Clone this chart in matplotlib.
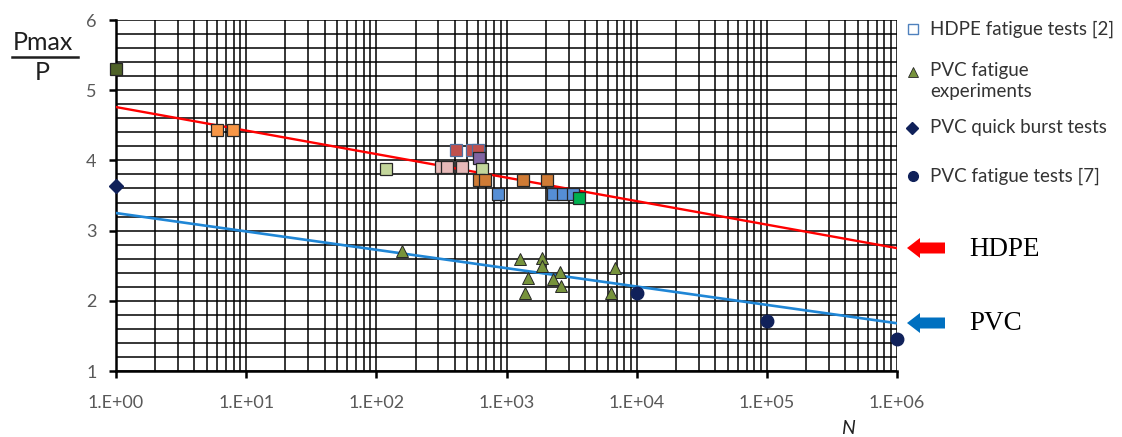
import numpy as np
import matplotlib
matplotlib.use("Agg")
import matplotlib.pyplot as plt
from matplotlib.ticker import LogLocator, MultipleLocator, FuncFormatter, NullFormatter
from matplotlib.patches import FancyArrow

# ---------------- data ----------------
# HDPE fatigue tests [2] (squares, several source groups)
hdpe_N = [1, 6.0, 7.9, 119, 314, 349, 455, 409, 543, 604, 615, 648,
          620, 684, 1339, 2047, 860, 2276, 2717, 3243, 3606]
hdpe_ratio = [5.30, 4.43, 4.43, 3.88, 3.91, 3.91, 3.91, 4.15, 4.15, 4.15, 4.03, 3.88,
              3.72, 3.72, 3.72, 3.72, 3.52, 3.52, 3.52, 3.52, 3.46]
hdpe_group = ["a", "b", "b", "c", "d", "d", "d", "e", "e", "e", "f", "c",
              "g", "g", "g", "g", "h", "h", "h", "h", "i"]

# PVC fatigue experiments (triangles)
pvc_exp_N = [157, 1270, 1870, 1870, 1463, 1387, 2576, 2276, 2624, 6810, 6350]
pvc_exp_ratio = [2.71, 2.60, 2.61, 2.50, 2.32, 2.11, 2.41, 2.31, 2.21, 2.47, 2.11]

# PVC quick burst tests (diamond)
pvc_burst_N = [1]
pvc_burst_ratio = [3.64]

# PVC fatigue tests [7] (circles)
pvc_lit_N = [1e4, 1e5, 1e6]
pvc_lit_ratio = [2.11, 1.71, 1.46]

# trend lines
trend_N = [1, 1e6]
hdpe_trend = [4.76, 2.75]
pvc_trend = [3.25, 1.68]

legend_labels = ["HDPE fatigue tests [2]", "PVC fatigue\nexperiments",
                 "PVC quick burst tests", "PVC fatigue tests [7]"]
xtick_values = [1, 1e1, 1e2, 1e3, 1e4, 1e5, 1e6]

# ---------------- styles ----------------
group_colors = {"a": "#4f6228", "b": "#f79646", "c": "#c3d69b", "d": "#e6b9b8",
                "e": "#c0504d", "f": "#8064a2", "g": "#cf7b35", "h": "#558ed5",
                "i": "#00b050"}
group_edges = {"e": "#4f6fa0"}
navy = "#10215a"
olive = "#77933c"
txt = "#333333"
FONT = "Lato"

W, H = 1122, 437
fig = plt.figure(figsize=(W / 100, H / 100), dpi=100)
x0, x1, y0, y1 = 116, 897, 20, 371
ax = fig.add_axes([x0 / W, 1 - y1 / H, (x1 - x0) / W, (y1 - y0) / H])

ax.set_xscale("log")
ax.set_xlim(1, 1e6)
ax.set_ylim(1, 6)

ax.xaxis.set_major_locator(LogLocator(base=10))
ax.xaxis.set_minor_locator(LogLocator(base=10, subs=np.arange(2, 10)))
ax.xaxis.set_minor_formatter(NullFormatter())
ax.set_xticks(xtick_values)
ax.xaxis.set_major_formatter(FuncFormatter(lambda v, p: "1.E+%02d" % int(round(np.log10(v)))))
ax.yaxis.set_major_locator(MultipleLocator(1))
ax.yaxis.set_minor_locator(MultipleLocator(0.2))

ax.grid(which="both", color="black", lw=1.1, zorder=0)
ax.set_axisbelow(True)
for s in ["top", "right"]:
    ax.spines[s].set_visible(False)
for s in ["left", "bottom"]:
    ax.spines[s].set_linewidth(1.8)
    ax.spines[s].set_zorder(1.5)

ax.tick_params(which="major", direction="out", length=5, width=1.8, color="black",
               labelsize=13, labelcolor="#595959")
ax.tick_params(axis="y", pad=9)
ax.tick_params(axis="x", pad=12)
ax.tick_params(which="minor", length=0)
for lab in ax.get_xticklabels() + ax.get_yticklabels():
    lab.set_fontfamily(FONT)

# trend lines
ax.plot(trend_N, hdpe_trend, color="#ff0000", lw=1.7, zorder=2)
ax.plot(trend_N, pvc_trend, color="#1f86d6", lw=1.9, zorder=2)

# HDPE squares
for n, r, g in zip(hdpe_N, hdpe_ratio, hdpe_group):
    ax.plot([n], [r], marker="s", ms=9, mfc=group_colors[g],
            mec=group_edges.get(g, "#262626"), mew=0.9, ls="none",
            clip_on=False, zorder=4)

ax.plot(pvc_exp_N, pvc_exp_ratio, marker="^", ms=9, mfc=olive, mec="#262626",
        mew=0.7, ls="none", clip_on=False, zorder=4)
ax.plot(pvc_burst_N, pvc_burst_ratio, marker="D", ms=7.5, mfc=navy, mec=navy,
        ls="none", clip_on=False, zorder=4)
ax.plot(pvc_lit_N, pvc_lit_ratio, marker="o", ms=9, mfc=navy, mec=navy,
        ls="none", clip_on=False, zorder=4)

# ---------------- overlay (pixel coordinates) ----------------
ov = fig.add_axes([0, 0, 1, 1], facecolor="none")
ov.set_xlim(0, W)
ov.set_ylim(H, 0)
ov.axis("off")

# legend
leg_y = [29, 72, 128, 176]
text_y = [29, 81, 128, 176]
ov.plot([913], [leg_y[0]], marker="s", ms=7, mfc="white", mec="#4f81bd", mew=1.0, ls="none")
ov.plot([913], [leg_y[1]], marker="^", ms=7, mfc=olive, mec="#262626", mew=0.6, ls="none")
ov.plot([912], [leg_y[2]], marker="D", ms=6.5, mfc=navy, mec=navy, ls="none")
ov.plot([913], [leg_y[3]], marker="o", ms=7, mfc=navy, mec=navy, ls="none")
for ty, lab in zip(text_y, legend_labels):
    ov.text(930, ty, lab, fontsize=13.5, color=txt, family=FONT, va="center",
            ha="left", linespacing=1.35)

# arrows and labels
ov.add_patch(FancyArrow(945, 248, -38, 0, width=11, head_width=20, head_length=13,
                        length_includes_head=True, color="#ff0000", lw=0))
ov.add_patch(FancyArrow(945, 323, -38, 0, width=11, head_width=20, head_length=13,
                        length_includes_head=True, color="#0070c0", lw=0))
ov.text(969, 249, "HDPE", fontsize=19.5, family="Liberation Serif", color="black",
        va="center", ha="left")
ov.text(969, 324, "PVC", fontsize=19.5, family="Liberation Serif", color="black",
        va="center", ha="left")

# y label as fraction
ov.text(43, 42, "Pmax", fontsize=18, family=FONT, color="#1f1f1f", ha="center", va="center")
ov.plot([12, 78], [57, 57], color="#1f1f1f", lw=1.8)
ov.text(42, 73, "P", fontsize=18, family=FONT, color="#1f1f1f", ha="center", va="center")

# x label
ov.text(848, 428, "N", fontsize=14, family=FONT, style="italic", color="#1f1f1f",
        ha="center", va="center")

fig.savefig("out.png", dpi=100)
